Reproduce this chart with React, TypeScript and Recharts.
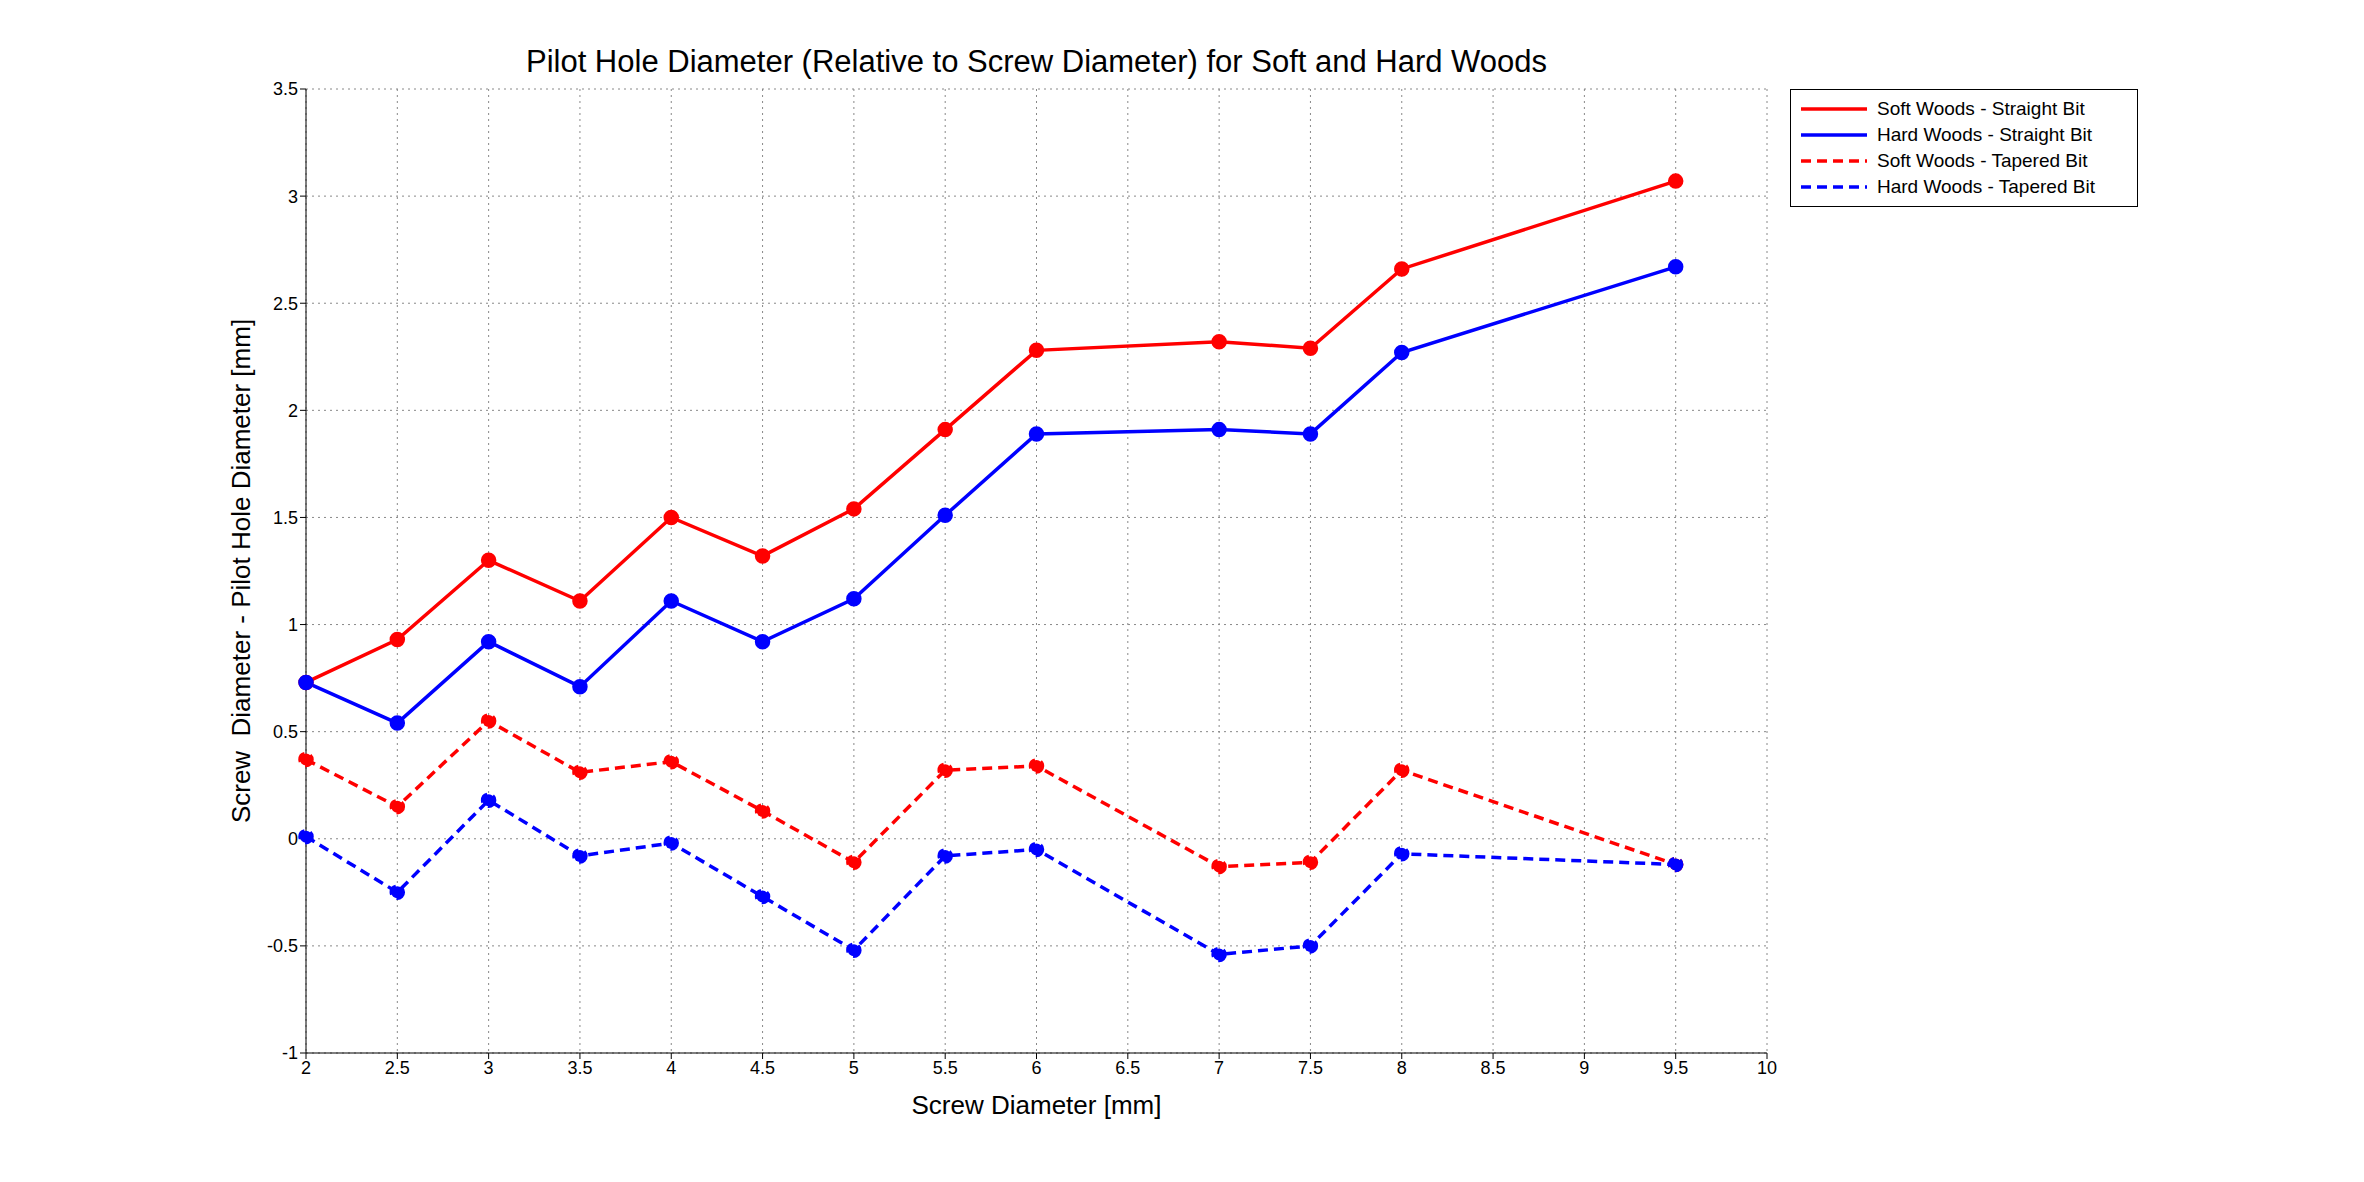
import React from "react";
import { LineChart, Line, XAxis, YAxis, CartesianGrid } from "recharts";

const screwDiameters = [2, 2.5, 3, 3.5, 4, 4.5, 5, 5.5, 6, 7, 7.5, 8, 9.5];
const softStraight = [0.73, 0.93, 1.3, 1.11, 1.5, 1.32, 1.54, 1.91, 2.28, 2.32, 2.29, 2.66, 3.07];
const hardStraight = [0.73, 0.54, 0.92, 0.71, 1.11, 0.92, 1.12, 1.51, 1.89, 1.91, 1.89, 2.27, 2.67];
const softTapered = [0.37, 0.15, 0.55, 0.31, 0.36, 0.13, -0.11, 0.32, 0.34, -0.13, -0.11, 0.32, -0.12];
const hardTapered = [0.01, -0.25, 0.18, -0.08, -0.02, -0.27, -0.52, -0.08, -0.05, -0.54, -0.5, -0.07, -0.12];
const xTicks = [2, 2.5, 3, 3.5, 4, 4.5, 5, 5.5, 6, 6.5, 7, 7.5, 8, 8.5, 9, 9.5, 10];
const yTicks = [-1, -0.5, 0, 0.5, 1, 1.5, 2, 2.5, 3, 3.5];

const data = screwDiameters.map((x, i) => ({
  x,
  softStraight: softStraight[i],
  hardStraight: hardStraight[i],
  softTapered: softTapered[i],
  hardTapered: hardTapered[i],
}));

const series = [
  { key: "softStraight", name: "Soft Woods - Straight Bit", color: "#ff0000", dash: undefined },
  { key: "hardStraight", name: "Hard Woods - Straight Bit", color: "#0000ff", dash: undefined },
  { key: "softTapered", name: "Soft Woods - Tapered Bit", color: "#ff0000", dash: "10 6" },
  { key: "hardTapered", name: "Hard Woods - Tapered Bit", color: "#0000ff", dash: "10 6" },
];

const font = "'Liberation Sans', Arial, sans-serif";

function LegendBox() {
  return (
    <div style={{ position: "absolute", left: 1782, top: 81, border: "1.5px solid #000", background: "#fff", padding: "6px 8px", width: 348, boxSizing: "border-box", zIndex: 2 }}>
      {series.map((s) => (
        <div key={s.key} style={{ display: "flex", alignItems: "center", height: 26, fontSize: 19, fontFamily: font }}>
          <svg width={70} height={10} style={{ marginRight: 8 }}>
            <line x1={2} y1={5} x2={68} y2={5} stroke={s.color} strokeWidth={3.5} strokeDasharray={s.dash} />
          </svg>
          {s.name}
        </div>
      ))}
    </div>
  );
}

export default function App() {
  const axisStyle = { fontSize: 18, fill: "#000", fontFamily: font };
  return (
    <div style={{ position: "relative", width: 2348, height: 1166, background: "#fff", fontFamily: font }}>
      <div style={{ position: "absolute", left: 298, width: 1461, top: 36, textAlign: "center", fontSize: 31 }}>
        Pilot Hole Diameter (Relative to Screw Diameter) for Soft and Hard Woods
      </div>
      <div style={{ position: "absolute", left: 298, width: 1461, top: 1082, textAlign: "center", fontSize: 26 }}>
        Screw Diameter [mm]
      </div>
      <div
        style={{
          position: "absolute",
          left: 233,
          top: 563,
          fontSize: 26,
          whiteSpace: "pre",
          transform: "translate(-50%, -50%) rotate(-90deg)",
        }}
      >
        {"Screw  Diameter - Pilot Hole Diameter [mm]"}
      </div>
      <LegendBox />
      <LineChart width={2348} height={1166} data={data} margin={{ top: 81, right: 589, bottom: 91, left: 238 }}>
        <CartesianGrid stroke="#888" strokeDasharray="2 4" />
        <XAxis
          dataKey="x"
          type="number"
          domain={[2, 10]}
          ticks={xTicks}
          tick={axisStyle}
          stroke="#000"
          tickSize={6}
          height={30}
        />
        <XAxis xAxisId="top" orientation="top" dataKey="x" type="number" domain={[2, 10]} tick={false} stroke="#000" height={0} />
        <YAxis
          type="number"
          domain={[-1, 3.5]}
          ticks={yTicks}
          tick={axisStyle}
          stroke="#000"
          tickSize={6}
          width={60}
        />
        <YAxis yAxisId="right" orientation="right" domain={[-1, 3.5]} tick={false} stroke="#000" width={0} />
        {series.map((s) => (
          <Line
            key={s.key}
            dataKey={s.key}
            name={s.name}
            stroke={s.color}
            strokeWidth={3.5}
            strokeDasharray={s.dash}
            dot={{ r: 6, fill: s.color, stroke: s.color }}
            isAnimationActive={false}
          />
        ))}
      </LineChart>
    </div>
  );
}
